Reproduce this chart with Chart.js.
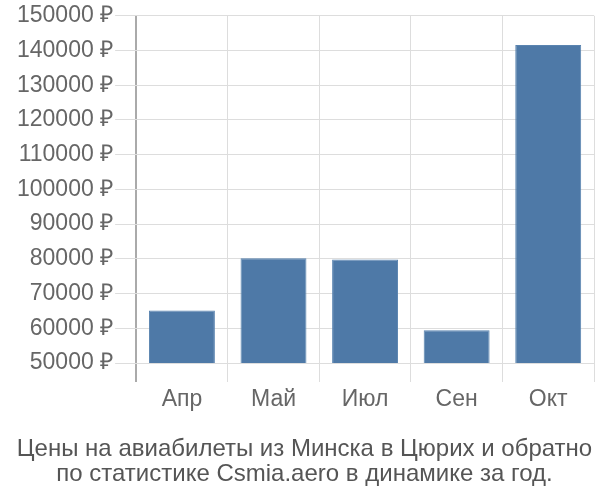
<!DOCTYPE html>
<html>
<head>
<meta charset="utf-8">
<script src="https://cdn.jsdelivr.net/npm/chart.js@4"></script>
<style>
  html, body { margin: 0; padding: 0; background: #fff; }
  #wrap { width: 600px; height: 500px; }
</style>
</head>
<body>
<div id="wrap"><canvas id="priceChart" width="600" height="500"></canvas></div>
<script>
const months = ['Апр', 'Май', 'Июл', 'Сен', 'Окт'];
const prices = [65100, 80200, 79800, 59400, 141600];
const yTicks = { min: 50000, max: 150000, step: 10000 };
const titleLines = [
    'Цены на авиабилеты из Минска в Цюрих и обратно',
    'по статистике Csmia.aero в динамике за год.'
];

const ctx = document.getElementById('priceChart').getContext('2d');

const chart = new Chart(ctx, {
    type: 'bar',
    data: {
        labels: months,
        datasets: [{
            data: prices,
            backgroundColor: '#4e79a7',
            borderColor: '#5a84b0',
            borderWidth: 1
        }]
    },
    options: {
        responsive: false,
        animation: false,
        layout: {
            padding: { top: 3, right: 6, left: 15, bottom: 0 }
        },
        scales: {
            x: {
                grid: {
                    offset: true,
                    color: (c) => c.index === 0 ? '#aaaaaa' : '#dddddd',
                    lineWidth: (c) => c.index === 0 ? 2 : 1,
                    tickLength: 19
                },
                border: { display: false },
                ticks: {
                    color: '#666',
                    font: { family: 'Liberation Sans', size: 23 },
                    padding: 4
                }
            },
            y: {
                min: yTicks.min,
                max: yTicks.max,
                grid: {
                    color: '#dddddd',
                    tickLength: 21
                },
                border: { display: false },
                ticks: {
                    stepSize: yTicks.step,
                    color: '#666',
                    font: { family: 'Liberation Sans', size: 23 },
                    padding: 2,
                    callback: (v) => v + ' ₽'
                }
            }
        },
        plugins: {
            legend: { display: false },
            tooltip: { enabled: false },
            title: {
                display: true,
                position: 'bottom',
                text: titleLines,
                color: '#555',
                font: { family: 'Liberation Sans', size: 24, weight: 'normal', lineHeight: 1.05 },
                padding: { top: 19, bottom: 13 }
            }
        }
    }
});
</script>
</body>
</html>
